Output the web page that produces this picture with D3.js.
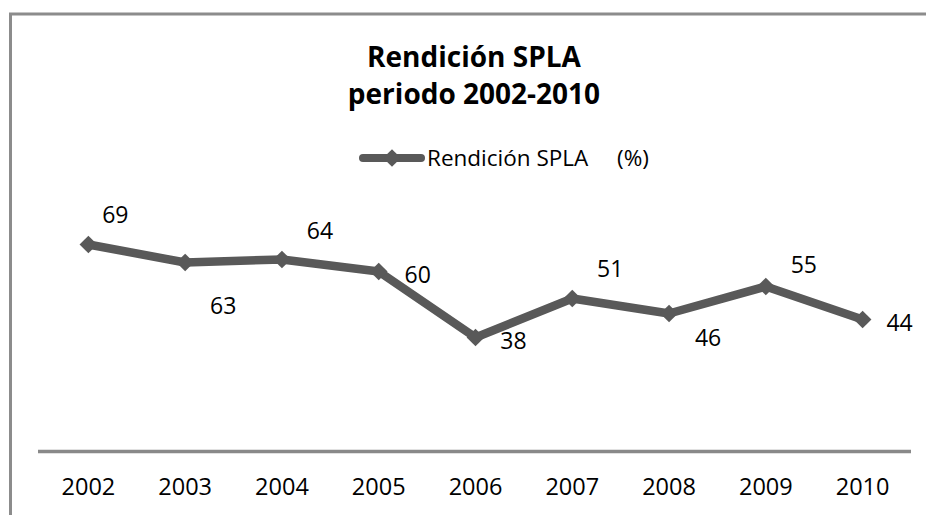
<!DOCTYPE html>
<html>
<head>
<meta charset="utf-8">
<script src="https://cdn.jsdelivr.net/npm/d3@7"></script>
<style>
  body { margin: 0; background: #fff; }
  svg { display: block; font-family: "Open Sans", sans-serif; }
</style>
</head>
<body>
<div class="chart"></div>
<script>
var years = ['2002', '2003', '2004', '2005', '2006', '2007', '2008', '2009', '2010']
var rendicion = [69, 63, 64, 60, 38, 51, 46, 55, 44]
var seriesName = 'Rendición SPLA'
var titleLines = ['Rendición SPLA', 'periodo 2002-2010']

// where each value label sits relative to its point (dx to centre, dy to baseline)
var labelOffsets = [[27, -22], [38, 51], [38, -21], [39, 11], [38, 11], [38, -22], [39, 32], [38, -14], [37, 11]]

var width = 926, height = 515
var lineColor = '#595959', axisColor = '#898989'

var svg = d3.select('.chart').append('svg')
  .attr('width', width).attr('height', height)

// outer frame, runs off the right and bottom edge
svg.append('rect')
  .attr('x', 10.5).attr('y', 14)
  .attr('width', 1000).attr('height', 600)
  .attr('fill', 'none').attr('stroke', '#8c8c8c').attr('stroke-width', 3)

svg.append('g').selectAll('text').data(titleLines).join('text')
  .attr('x', 474).attr('y', (d, i) => 67 + i * 37)
  .attr('text-anchor', 'middle')
  .attr('font-size', 28).attr('font-weight', 'bold').attr('fill', '#000')
  .text(d => d)

var x = d3.scaleBand().domain(years).range([40, 911])
var y = d3.scaleLinear().domain([0, 80]).range([451.5, 211.5])
var cx = d => x(d) + x.bandwidth() / 2

var xAxis = svg.append('g')
  .attr('transform', `translate(0,${y(0)})`)
  .call(d3.axisBottom(x).tickSize(0).tickPadding(27).tickSizeOuter(0))
xAxis.select('.domain').attr('stroke', axisColor).attr('stroke-width', 3.5)
  .attr('d', `M38,0H911`)
xAxis.selectAll('text').attr('font-size', 23.5).attr('fill', '#000')
  .attr('font-family', '"Open Sans", sans-serif')

var points = years.map((d, i) => ({year: d, value: rendicion[i], off: labelOffsets[i]}))

var line = d3.line().x(d => cx(d.year)).y(d => y(d.value))
svg.append('path').datum(points)
  .attr('d', line)
  .attr('fill', 'none').attr('stroke', lineColor).attr('stroke-width', 8.5)
  .attr('stroke-linejoin', 'round')

var diamond = d3.symbol().type(d3.symbolDiamond2).size(200)
svg.append('g').selectAll('path').data(points).join('path')
  .attr('d', diamond)
  .attr('transform', d => `translate(${cx(d.year)},${y(d.value)})`)
  .attr('fill', lineColor)

svg.append('g').selectAll('text').data(points).join('text')
  .attr('x', d => cx(d.year) + d.off[0])
  .attr('y', d => y(d.value) + d.off[1])
  .attr('text-anchor', 'middle')
  .attr('font-size', 23).attr('fill', '#000')
  .text(d => d.value)

// legend
var lg = svg.append('g').attr('transform', 'translate(363,158)')
lg.append('line').attr('x1', 0).attr('x2', 58)
  .attr('stroke', lineColor).attr('stroke-width', 8).attr('stroke-linecap', 'round')
lg.append('path').attr('d', diamond).attr('transform', 'translate(29,0)').attr('fill', lineColor)
lg.append('text').attr('x', 64).attr('y', 8)
  .attr('font-size', 22.5).attr('fill', '#000')
  .text(seriesName)
lg.append('text').attr('x', 254).attr('y', 8)
  .attr('font-size', 22.5).attr('fill', '#000')
  .text('(%)')
</script>
</body>
</html>
